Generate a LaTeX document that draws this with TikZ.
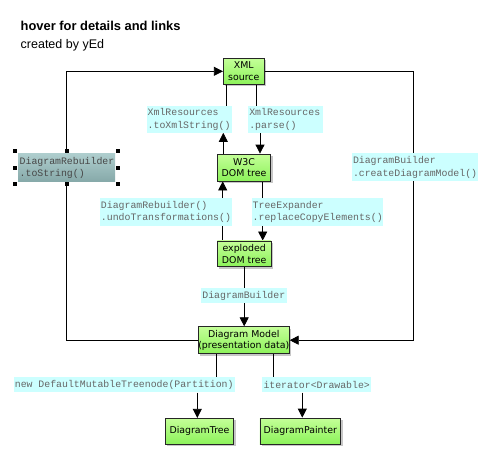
\documentclass[tikz,border=0pt]{standalone}
\usepackage{fontspec}
\setmainfont{DejaVu Sans}
\newfontfamily\monof{Liberation Mono}
\newfontfamily\titlef{Liberation Sans}
\usetikzlibrary{arrows.meta,shadows}
\definecolor{greentop}{HTML}{C4FF98}
\definecolor{greenbot}{HTML}{8CF25A}
\definecolor{cyanlbl}{HTML}{CCFFFF}
\definecolor{lbltext}{HTML}{666666}
\definecolor{tealtop}{HTML}{AECDCD}
\definecolor{tealbot}{HTML}{86A9A9}
\pgfdeclarelayer{bg}
\pgfdeclarelayer{edgelayer}
\pgfsetlayers{bg,edgelayer,main}
\begin{document}
\begin{tikzpicture}[x=1pt,y=-1pt,
  gnode/.style={draw=black!85, line width=0.8pt, top color=greentop, bottom color=greenbot,
    drop shadow={shadow xshift=2pt, shadow yshift=-2pt, fill=black, opacity=0.22},
    inner sep=0pt, font=\fontsize{9.4}{11.6}\selectfont, align=center},
  lbl/.style={fill=cyanlbl, inner xsep=1pt, inner ysep=0pt, font=\monof\fontsize{9.85}{12.7}\selectfont,
    text=lbltext, align=left, anchor=center},
  edge/.style={line width=0.8pt, black},
  arr/.style={edge, -{Triangle[length=9pt,width=9pt]}},
  titlestyle/.style={anchor=base west, inner sep=0pt}
]
\useasboundingbox (0,0) rectangle (492,461);
\begin{pgfonlayer}{bg}
\fill[white] (0,0) rectangle (492,461);
\end{pgfonlayer}

% title
\begin{scope}
\clip (0,0) rectangle (181.5,60);
\node[titlestyle, font=\titlef\bfseries\fontsize{12.9}{14}\selectfont] (title) at (20.5,30.5) {hover for details and links};
\end{scope}
\node[titlestyle, font=\titlef\fontsize{12.5}{14}\selectfont] (subtitle) at (20.5,48.5) {created by yEd};

% main nodes
\node[gnode, minimum width=41pt, minimum height=26pt] (xml) at (243.8,71.3) {XML\\source};
\node[gnode, minimum width=53.4pt, minimum height=27pt] (w3c) at (244,167.5) {W3C\\DOM tree};
\node[gnode, minimum width=53.7pt, minimum height=25.7pt] (exp) at (244.2,253.8) {exploded\\DOM tree};
\node[gnode, minimum width=89.7pt, minimum height=27pt] (model) at (243.8,340.2) {Diagram Model\\(presentation data)};
\node[gnode, minimum width=68.4pt, minimum height=26pt] (tree) at (199.5,431.3) {DiagramTree};
\node[gnode, minimum width=80.7pt, minimum height=26pt] (painter) at (300.3,431) {DiagramPainter};
\node[top color=tealtop, bottom color=tealbot, minimum width=96.7pt, minimum height=27.7pt,
  text width=94pt, inner xsep=1.5pt, inner ysep=0pt, align=left, text=black!72,
  font=\monof\fontsize{9.85}{12.7}\selectfont] (reb) at (66.7,167.8) {DiagramRebuilder\\.toString()};

% selection handles
\foreach \hx/\hy in {15/151,66.7/151,118.3/151,15/168,118.3/168,15/184.3,66.7/184.3,118.3/184.3}
  \fill[black] (\hx,\hy) ++(-2,-2) rectangle ++(4,4);

% labels
\node[lbl, minimum width=85pt, text width=83pt, minimum height=26.7pt] (lbl1) at (189.2,119.3) {XmlResources\\.toXmlString()};
\node[lbl, minimum width=74.4pt, text width=72.4pt, minimum height=26.7pt] (lbl2) at (285.5,119.3) {XmlResources\\.parse()};
\node[lbl, minimum width=131.7pt, text width=129.7pt, minimum height=27.4pt] (lbl3) at (165.8,212) {DiagramRebuilder()\\.undoTransformations()};
\node[lbl, minimum width=131pt, text width=129pt, minimum height=27.4pt] (lbl4) at (317.2,212) {TreeExpander\\.replaceCopyElements()};
\node[lbl, minimum width=126pt, text width=124pt, minimum height=27.7pt] (lblR) at (415,167.2) {DiagramBuilder\\.createDiagramModel()};
\node[lbl, minimum width=85.7pt, minimum height=15.6pt] (lbl5) at (243.8,295.5) {DiagramBuilder};
\node[lbl, minimum width=218.3pt, minimum height=15.6pt] (lbl6) at (124.2,384.5) {new DefaultMutableTreenode(Partition)};
\node[lbl, minimum width=108.7pt, minimum height=15.6pt] (lbl7) at (316.7,384.5) {iterator<Drawable>};

% column coordinates
\coordinate (cR) at (413,0);
\coordinate (c1a) at (226,0);
\coordinate (c1b) at (223.3,0);
\coordinate (c2a) at (256.7,0);
\coordinate (c2b) at (260,0);
\coordinate (c3) at (222.7,0);
\coordinate (c4) at (262.7,0);
\coordinate (c6a) at (216.7,0);
\coordinate (c6b) at (197.3,0);
\coordinate (c7a) at (273.3,0);
\coordinate (c7b) at (302.3,0);

\begin{pgfonlayer}{edgelayer}
% right loop
\draw[arr] (xml.east) -- (xml.east -| cR) -- (model.east -| cR) -- (model.east);
% left loop
\draw[edge] (model.west) -- (model.west -| reb.south) -- (reb.south);
\draw[arr] (reb.north) -- (reb.north |- xml.west) -- (xml.west);
% xml - w3c
\draw[edge] (xml.south -| c1a) -- (lbl1.north -| c1a);
\draw[arr] (w3c.north -| c1b) -- (lbl1.south -| c1b);
\draw[edge] (xml.south -| c2a) -- (lbl2.north -| c2a);
\draw[arr] (lbl2.south -| c2b) -- (w3c.north -| c2b);
% w3c - exploded
\draw[edge] (exp.north -| c3) -- (lbl3.south -| c3);
\draw[arr] (lbl3.north -| c3) -- (w3c.south -| c3);
\draw[edge] (w3c.south -| c4) -- (lbl4.north -| c4);
\draw[arr] (lbl4.south -| c4) -- (exp.north -| c4);
% exploded - model
\draw[arr] (exp.south) -- (model.north -| exp.south);
% model - tree / painter
\draw[edge] (model.south -| c6a) -- (lbl6.north -| c6a);
\draw[arr] (lbl6.south -| c6b) -- (tree.north -| c6b);
\draw[edge] (model.south -| c7a) -- (lbl7.north -| c7a);
\draw[arr] (lbl7.south -| c7b) -- (painter.north -| c7b);
\end{pgfonlayer}
\end{tikzpicture}
\end{document}
